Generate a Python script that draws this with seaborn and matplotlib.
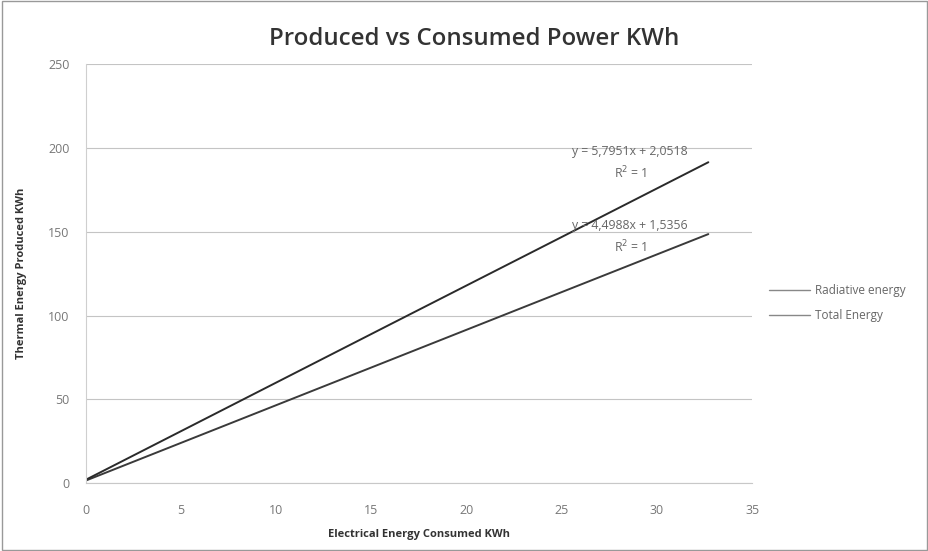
import pandas as pd
import numpy as np
import matplotlib
matplotlib.use('Agg')
import matplotlib.pyplot as plt
import seaborn as sns

# values
consumed = [0, 8, 16, 24, 32.7]
radiative = [1.5, 37.5, 73.5, 109.5, 148.6]
total = [2.0, 48.4, 94.8, 141.1, 191.5]
series_names = ['Radiative energy', 'Total Energy']
eq_labels = ['y = 4,4988x + 1,5356\nR$^2$ = 1', 'y = 5,7951x + 2,0518\nR$^2$ = 1']

df = pd.DataFrame({
    'consumed': consumed * 2,
    'produced': radiative + total,
    'series': [series_names[0]] * len(consumed) + [series_names[1]] * len(consumed),
})

sns.set_style('white')
plt.rcParams['font.family'] = ['Open Sans', 'DejaVu Sans']

fig = plt.figure(figsize=(9.29, 5.51), dpi=100)
ax = fig.add_axes([0.0926, 0.1234, 0.717, 0.760])

sns.lineplot(data=df, x='consumed', y='produced', hue='series',
             palette=['#3a3a3a', '#2a2a2a'], linewidth=1.4, ax=ax)

ax.set_xlim(0, 35)
ax.set_ylim(0, 250)
ax.set_xticks(range(0, 36, 5))
ax.set_yticks(range(0, 251, 50))
ax.yaxis.grid(True, color='#c4c4c4', linewidth=0.8)
for s in ['top', 'right']:
    ax.spines[s].set_visible(False)
ax.spines['left'].set_color('#cfcfcf')
ax.spines['bottom'].set_color('#c8c8c8')
ax.tick_params(axis='both', labelsize=9, colors='#777777', length=0)
ax.tick_params(axis='x', pad=15)
ax.tick_params(axis='y', pad=12)

ax.set_xlabel('Electrical Energy Consumed KWh', fontsize=8, fontweight='bold',
              color='#333333', labelpad=9)
ax.set_ylabel('Thermal Energy Produced KWh', fontsize=8, fontweight='bold',
              color='#333333', labelpad=15)
fig.suptitle('Produced vs Consumed Power KWh', x=0.51, y=0.93, va='center',
             fontsize=17.3, fontweight='semibold', color='#333333')

# trendline equations
ax.text(0.817, 0.587, eq_labels[0], transform=ax.transAxes, ha='center', va='center',
        fontsize=8.8, color='#666666', linespacing=1.5)
ax.text(0.817, 0.764, eq_labels[1], transform=ax.transAxes, ha='center', va='center',
        fontsize=8.8, color='#666666', linespacing=1.5)

leg = ax.legend(loc='center left', bbox_to_anchor=(1.01, 0.43), frameon=False,
                fontsize=8.5, handlelength=3.4, handletextpad=0.5,
                labelspacing=1.0, title=None)
for t in leg.get_texts():
    t.set_color('#666666')
for h in leg.get_lines():
    h.set_color('#888888')
    h.set_linewidth(1.0)

fig.patches.append(plt.Rectangle((0.002, 0.002), 0.996, 0.996, transform=fig.transFigure,
                                 fill=False, edgecolor='#999999', linewidth=1))

fig.savefig('out.png', dpi=100, facecolor='white')
